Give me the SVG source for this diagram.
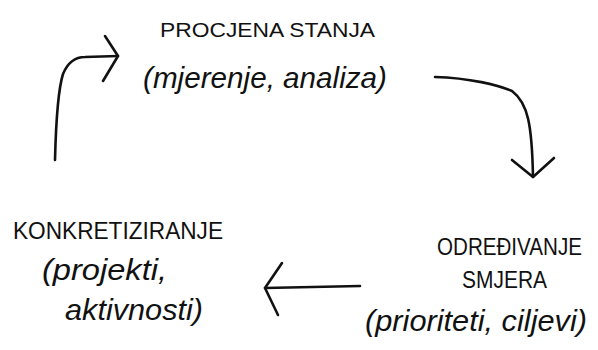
<svg xmlns="http://www.w3.org/2000/svg" width="598" height="350" viewBox="0 0 598 350">
<style>
.t{font-family:"Liberation Sans","DejaVu Sans",sans-serif;fill:#111;}
.cap{font-size:21px;}
.capl{font-size:24px;}
.capo{font-size:20.6px;}
.low{font-size:30px;font-style:italic;}
.c{fill:none;stroke:#111;stroke-width:2.6;stroke-linecap:round;stroke-linejoin:round;}
</style>
<rect width="598" height="350" fill="#fff"/>
<g id="procjena">
<text class="t cap" x="160" y="37" textLength="215" lengthAdjust="spacingAndGlyphs">PROCJENA STANJA</text>
<text class="t low" x="143" y="88" textLength="244" lengthAdjust="spacingAndGlyphs">(mjerenje, analiza)</text>
</g>
<g id="odredivanje">
<text class="t capo" transform="translate(437,255) scale(1,1.16)" x="0" y="0">ODREĐIVANJE</text>
<text class="t capl" x="462" y="288" textLength="85" lengthAdjust="spacingAndGlyphs">SMJERA</text>
<text class="t low" x="365" y="331" textLength="222" lengthAdjust="spacingAndGlyphs">(prioriteti, ciljevi)</text>
</g>
<g id="konkretiziranje">
<text class="t capl" x="13" y="239" textLength="210" lengthAdjust="spacingAndGlyphs">KONKRETIZIRANJE</text>
<text class="t low" x="42" y="280" textLength="125" lengthAdjust="spacingAndGlyphs">(projekti,</text>
<text class="t low" x="65" y="320" textLength="138" lengthAdjust="spacingAndGlyphs">aktivnosti)</text>
</g>
<g id="connectors">
<path class="c" d="M435,77 C470,78 498,85 512,91 C528,103 532,125 533,177"/>
<path class="c" d="M512,160 L533,177 L554,158"/>
<path class="c" d="M360,286 L265,288"/>
<path class="c" d="M282,263 L265,288 L278,315"/>
<path class="c" d="M55,160 C56,120 58,90 63,74 C68,62 76,57 85,57 L118,56"/>
<path class="c" d="M105,36 L118,56 L103,81"/>
</g>
</svg>
